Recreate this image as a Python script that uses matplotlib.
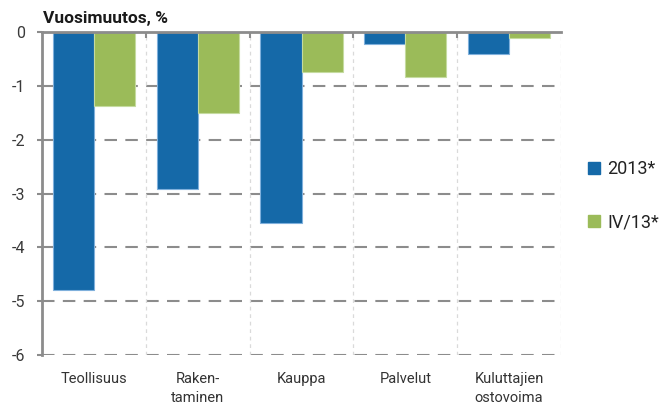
import matplotlib
matplotlib.use("Agg")
import matplotlib.pyplot as plt
import numpy as np
from matplotlib.lines import Line2D

categories = ["Teollisuus", "Raken-\ntaminen", "Kauppa", "Palvelut", "Kuluttajien\nostovoima"]
series_names = ["2013*", "IV/13*"]
values_2013 = [-4.79, -2.92, -3.55, -0.22, -0.41]
values_iv13 = [-1.37, -1.51, -0.75, -0.84, -0.11]
yticks = [0, -1, -2, -3, -4, -5, -6]

blue = "#1569a8"
green = "#9bbb59"
grid_c = "#8c8c8c"

plt.rcParams['font.family'] = ['Roboto', 'DejaVu Sans']

fig = plt.figure(figsize=(6.61, 4.08), dpi=100)
ax = fig.add_axes([42/661, 1-355/408, (561-42)/661, (355-32)/408])

x = np.arange(len(categories))
w = 0.395
ax.bar(x - w/2, values_2013, w, color=blue, edgecolor="#7fb0dc", linewidth=0.8, zorder=3)
ax.bar(x + w/2, values_iv13, w, color=green, edgecolor="#c5dba0", linewidth=0.8, zorder=3)

ax.set_xlim(-0.5, len(categories) - 0.5)
ax.set_ylim(-6, 0)
ax.set_yticks(yticks)
ax.set_yticklabels([str(v) for v in yticks])
ax.set_xticks(x)
ax.set_xticklabels(categories, linespacing=1.5)

# gridlines
for v in yticks[1:]:
    ax.axhline(v, color=grid_c, linestyle=(0, (6, 4)), linewidth=1.5, zorder=1)
for b in np.arange(0.5, len(categories), 1.0):
    ax.axvline(b, color="#dadada", linestyle=(0, (3, 3)), linewidth=0.9, zorder=1)

for s in ["right", "bottom"]:
    ax.spines[s].set_visible(False)
ax.spines["top"].set_color(grid_c)
ax.spines["top"].set_linewidth(2)
ax.spines["left"].set_color(grid_c)
ax.spines["left"].set_linewidth(2)
ax.spines["top"].set_zorder(4)

ax.tick_params(axis='y', length=3.5, width=1.5, color=grid_c, labelsize=11.5, labelcolor="#3a3a3a", pad=8.5)
ax.tick_params(axis='x', length=0, labelsize=10.5, labelcolor="#333333", pad=12)
ax.set_xticks(np.arange(0.5, len(categories) - 0.5, 1.0), minor=True)
ax.tick_params(axis='x', which='minor', top=True, bottom=False, direction='in', length=4, width=1.5, color=grid_c)

fig.text(43/661, 1-23/408, "Vuosimuutos, %", fontsize=12.5, fontweight='bold', color="#1a1a1a",
         ha='left', va='baseline')

handles = [Line2D([], [], marker='s', linestyle='none', markersize=8, color=blue),
           Line2D([], [], marker='s', linestyle='none', markersize=8, color=green)]
fig.legend(handles, series_names, loc='upper left', bbox_to_anchor=(578/661, 1-151/408),
           frameon=False, fontsize=13, handlelength=0.8, handletextpad=0.3,
           labelspacing=1.95, labelcolor="#222222", borderpad=0)

fig.savefig("out.png", dpi=100)
